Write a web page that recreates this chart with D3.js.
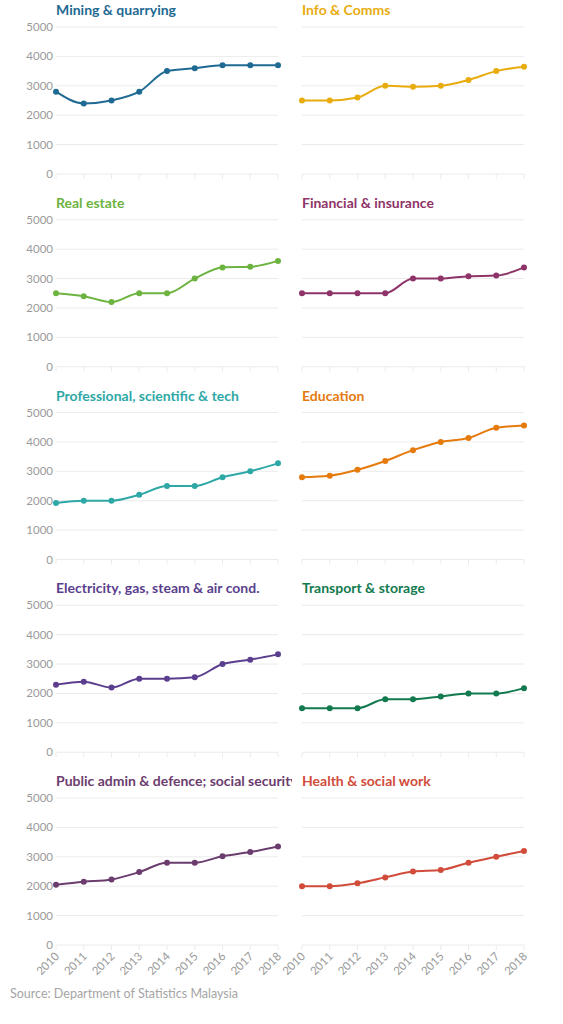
<!DOCTYPE html><html><head><meta charset="utf-8">
<script src="https://cdn.jsdelivr.net/npm/d3@7"></script>
<style>body{margin:0;background:#fff;font-family:Lato,"Source Sans Pro",sans-serif}</style></head><body>
<svg id="c" width="563" height="1024"></svg>
<script>
const years=[2010,2011,2012,2013,2014,2015,2016,2017,2018];
const yTicks=[0,1000,2000,3000,4000,5000];
const titles=["Mining & quarrying","Info & Comms","Real estate","Financial & insurance","Professional, scientific & tech","Education","Electricity, gas, steam & air cond.","Transport & storage","Public admin & defence; social security","Health & social work"];
const colors=["#1f6a93","#e8ac0f","#6db33f","#8e3469","#2ea8a6","#e57a0d","#5b3f8e","#137a4f","#6b3c6e","#d14b3a"];
const mining=[2800,2400,2500,2800,3500,3600,3700,3700,3700];
const info=[2500,2500,2600,3000,2970,3000,3200,3500,3650];
const realEstate=[2500,2400,2200,2500,2500,3000,3380,3400,3600];
const financial=[2500,2500,2500,2500,3000,3000,3080,3100,3380];
const professional=[1920,2000,2000,2200,2500,2500,2800,3000,3270];
const education=[2800,2850,3050,3350,3720,4000,4130,4480,4560];
const electricity=[2300,2400,2200,2500,2500,2550,3000,3150,3330];
const transport=[1500,1500,1500,1800,1800,1900,2000,2000,2180];
const publicAdmin=[2050,2150,2230,2480,2800,2800,3020,3160,3350];
const health=[2000,2000,2100,2300,2500,2550,2800,3000,3200];
const series=[mining,info,realEstate,financial,professional,education,electricity,transport,publicAdmin,health];
const svg=d3.select("#c");
svg.append("defs").selectAll("clipPath").data([0,1]).join("clipPath").attr("id",d=>"cl"+d)
 .append("rect").attr("x",d=>d?296:0).attr("y",0).attr("width",d=>d?267:292).attr("height",1024);
series.forEach((vals,i)=>{
 const col=i%2,row=Math.floor(i/2);
 const x0=col?302:56,x1=col?524:278;
 const yb=174+row*192.75,yt=yb-147;
 const x=d3.scaleLinear().domain([2010,2018]).range([x0,x1]);
 const y=d3.scaleLinear().domain([0,5000]).range([yb,yt]);
 const g=svg.append("g");
 g.selectAll("line.gr").data(yTicks).join("line").attr("x1",x0).attr("x2",x1)
  .attr("y1",d=>y(d)).attr("y2",d=>y(d)).attr("stroke","#ebebeb").attr("stroke-width",1);
 g.selectAll("line.tk").data(years).join("line").attr("x1",d=>x(d)).attr("x2",d=>x(d))
  .attr("y1",yb).attr("y2",yb+5).attr("stroke","#ebebeb");
 if(!col) g.selectAll("text.yl").data(yTicks).join("text").attr("x",x0-3).attr("y",d=>y(d)+4)
  .attr("text-anchor","end").attr("font-size",11.5).attr("fill","#9a9a9a").text(d=>d);
 if(row===4) g.selectAll("text.xl").data(years).join("text")
  .attr("transform",d=>`translate(${x(d)+4},${yb+12}) rotate(-45)`).attr("text-anchor","end")
  .attr("font-size",11.5).attr("fill","#9a9a9a").text(d=>d);
 g.append("text").attr("x",x0).attr("y",yt-12).attr("font-size",14).attr("font-weight","bold")
  .attr("fill",colors[i]).attr("clip-path",`url(#cl${col})`).text(titles[i]);
 const line=d3.line().x((d,j)=>x(years[j])).y(d=>y(d)).curve(d3.curveMonotoneX);
 g.append("path").attr("d",line(vals)).attr("fill","none").attr("stroke",colors[i]).attr("stroke-width",2);
 g.selectAll("circle").data(vals).join("circle").attr("cx",(d,j)=>x(years[j])).attr("cy",d=>y(d))
  .attr("r",3).attr("fill",colors[i]);
});
svg.append("text").attr("x",10).attr("y",998).attr("font-size",12.5).attr("fill","#a5a5a5").text("Source: Department of Statistics Malaysia");
</script></body></html>
